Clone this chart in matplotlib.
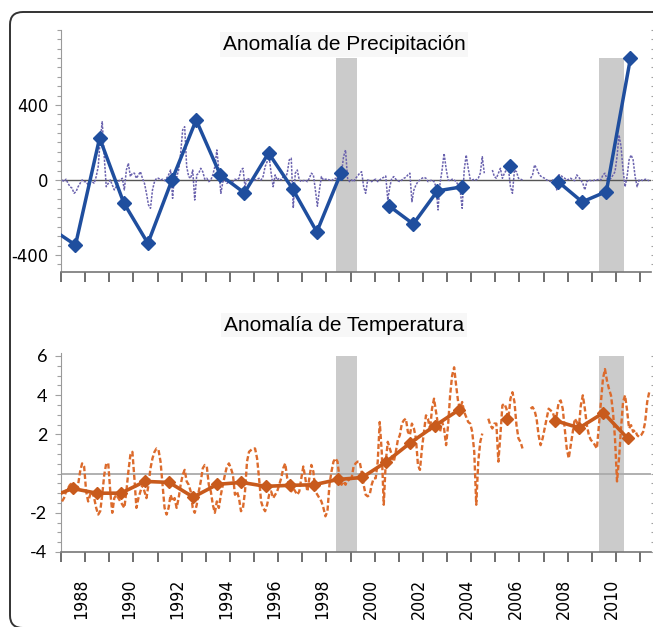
import numpy as np
import matplotlib.pyplot as plt
import matplotlib.transforms as mtransforms
from matplotlib import font_manager
from matplotlib.patches import FancyBboxPatch
from matplotlib.ticker import MultipleLocator, FixedLocator

plt.rcParams['axes.unicode_minus'] = False

nan = np.nan

# ---------------------------------------------------------------
# data
# ---------------------------------------------------------------
years = list(range(1986, 2011))
precip_annual = [-260, -347, 224, -122, -338, 0, 320, 27, -69, 144, -48, -277, 37,
                 nan, -139, -235, -58, -37, nan, 75, nan, -9, -117, -62, 651]
temp_annual = [-1.25, -0.76, -1.0, -1.0, -0.4, -0.45, -1.2, -0.55, -0.45, -0.65, -0.6,
               -0.57, -0.3, -0.2, 0.6, 1.57, 2.43, 3.24, nan, 2.8, nan, 2.7, 2.33, 3.1, 1.8]

# monthly anomalies, one row per year starting 1987 (2011 partial)
month_start = 1987
precip_monthly = [
    [0, -9, 4, -18, -36, -44, -71, -62, -36, -18, 0, -9],          # 1987
    [-9, -27, 0, -9, -18, 18, 71, 213, 311, 124, -36, -18],        # 1988
    [0, -27, -53, -36, -9, 0, 9, -53, 53, 89, 18, 36],             # 1989
    [36, 9, 27, 44, 9, -18, -71, -133, -151, -53, -9, 9],          # 1990
    [9, 0, 4, -4, 9, 27, 53, -98, 44, 14, 53, 142],                # 1991
    [267, 284, 71, 18, 9, 53, -107, 27, 36, 62, 44, 4],            # 1992
    [9, -9, 0, 27, 71, 160, 53, -71, -9, 0, -18, -9],              # 1993
    [-18, -9, 4, 0, 9, 53, 62, -36, 9, 4, -4, 0],                  # 1994
    [0, 4, 9, 0, 18, 71, 98, 124, 36, -36, 27, 0],                 # 1995
    [9, 0, 18, 9, 36, 107, 116, -150, 36, 53, 0, -9],              # 1996
    [-4, 0, -9, 9, 36, 27, -53, -140, -53, 18, 0, 4],              # 1997
    [4, 0, -4, 4, 9, 0, 9, 36, 124, 160, 9, -9],                   # 1998
    [0, -9, 9, 21, 36, 44, -36, -71, 0, -4, -9, 0],                # 1999
    [4, -9, 0, 9, 14, 21, -107, -36, 9, 18, 4, -4],                # 2000
    [-9, 0, 9, 14, 27, 36, -116, -53, -27, -9, 0, 9],              # 2001
    [14, 9, -9, -4, 0, -9, -36, -160, -18, 53, 142, 62],           # 2002
    [0, -4, 4, 0, -9, -27, -53, -151, 53, 133, 62, 4],             # 2003
    [0, 4, 0, 9, 36, 124, 36, nan, nan, nan, 53, 18],              # 2004
    [9, 36, 62, 9, 36, 53, 62, -36, -71, 53, 44, 9],               # 2005
    [4, 0, nan, nan, nan, 9, 27, 80, 62, 36, 21, 14],              # 2006
    [9, 0, -4, -9, 0, -18, -53, 27, 27, 14, 9, 0],                 # 2007
    [4, 9, 0, -4, 27, 14, 0, -18, -53, -9, 0, -4],                 # 2008
    [-4, 0, 0, 4, 0, 27, 36, 4, 0, 9, 27, 44],                     # 2009
    [124, 240, 178, 53, -36, 18, 107, 133, 107, 18, -36, 0],       # 2010
    [0, -4, 4, 0, -4],                                             # 2011
]
temp_monthly = [
    [-1.42, -1.25, -0.91, -0.74, -0.57, -0.49, -0.74, -0.91, -0.57, 0.10, 0.52, 0.36],   # 1987
    [-0.91, -1.42, -1.08, -0.91, -1.25, -1.75, -2.09, -1.92, -1.08, -0.07, 0.52, 0.52],  # 1988
    [-0.91, -2.0, -1.25, -1.08, -1.25, -1.42, -1.59, -1.75, -0.91, 0.10, 0.95, 1.11],    # 1989
    [-0.24, -1.75, -1.25, -0.91, -0.57, -0.91, -1.25, -0.57, 0.27, 0.78, 1.11, 1.28],    # 1990
    [1.20, 0.61, -0.57, -1.75, -2.09, -1.75, -1.08, -1.42, -1.25, -1.75, -1.25, -0.57],  # 1991
    [-0.07, 0.19, -0.40, -0.57, -0.91, -1.75, -2.0, -1.59, -0.91, -0.40, 0.27, 0.44],    # 1992
    [0.36, -0.57, -0.91, -1.59, -2.0, -1.42, -1.75, -1.08, -0.57, -0.07, 0.36, 0.52],    # 1993
    [0.27, -0.07, -1.08, -0.91, -1.25, -1.92, -1.75, -0.91, 0.61, 1.11, 1.20, 1.28],     # 1994
    [1.28, 0.78, -0.24, -1.42, -1.75, -1.92, -1.59, -1.08, -0.91, -1.25, -1.08, -0.91],  # 1995
    [-0.57, -0.24, 0.27, 0.52, -0.24, -0.57, -0.91, -0.74, -0.91, -1.08, -0.91, -0.24],  # 1996
    [0.36, -0.24, -0.91, -0.24, 0.44, 0.10, -0.91, -1.08, -1.25, -1.42, -1.75, -2.18],   # 1997
    [-1.92, -0.57, 0.10, 0.61, 0.78, 0.61, -0.24, -0.57, -0.40, -0.57, -0.24, -0.40],    # 1998
    [-0.24, 0.36, 0.52, 0.61, 0.61, 0.10, -0.57, -1.08, -1.16, -1.08, -0.57, -0.24],     # 1999
    [-0.24, 0.61, 2.63, 1.11, -1.59, 0.61, 1.62, 1.28, 0.95, 0.61, 1.11, 1.71],          # 2000
    [1.96, 2.55, 2.72, 2.80, 2.13, 1.96, 2.55, 2.30, 1.79, 0.44, 0.19, 1.28],            # 2001
    [2.13, 2.97, 2.80, 2.21, 3.31, 3.82, 3.14, 2.47, 2.13, 2.63, 2.30, 1.45],            # 2002
    [2.47, 3.99, 5.00, 5.42, 4.49, 3.65, 3.31, 3.65, 3.14, 2.89, 2.63, 2.55],            # 2003
    [2.13, 1.11, -1.59, 0.61, 1.62, 2.04, nan, nan, 2.80, 2.47, 2.30, 2.55],             # 2004
    [2.55, 0.61, 1.96, 3.48, 3.56, 3.31, 2.80, 3.82, 4.15, 3.65, 2.47, 1.79],            # 2005
    [1.62, 1.28, nan, nan, nan, 3.31, 3.39, 3.22, 2.80, 1.96, 1.45, 1.79],               # 2006
    [2.30, 2.80, 3.31, 3.22, 3.14, 2.80, 2.97, 3.65, 3.73, 3.31, 2.30, 1.28],            # 2007
    [0.78, 1.45, 2.13, 2.80, 2.63, 2.30, 3.48, 3.99, 3.31, 2.47, 1.96, 1.71],            # 2008
    [1.62, 1.45, 1.28, 2.47, 3.65, 4.83, 5.33, 4.74, 4.32, 3.99, 3.14, 1.79],            # 2009
    [-0.40, 0.78, 2.30, 3.65, 3.99, 3.22, 2.30, 2.47, 2.13, 2.21, 1.96, 1.87],           # 2010
    [1.96, 2.13, 2.63, 3.65, 4.15],                                                     # 2011
]

# shaded periods (decimal years)
band_start = [1998.4, 2009.3]
band_end = [1999.25, 2010.35]

PRECIP_OFFSET = 0.6
TEMP_OFFSET = 0.48

BLUE = '#1f4e9e'
BLUE_M = '#6a62ae'
ORANGE = '#c85a1c'
ORANGE_M = '#dc6b2c'
BAND = '#cbcbcb'


def narrow_props(size):
    """condensed regular sans for the tick labels, if one is installed"""
    fonts = font_manager.fontManager.ttflist
    for f in fonts:
        if f.name == 'Liberation Sans Narrow' and f.weight in (400, 'normal', 'regular') \
                and f.style == 'normal':
            return font_manager.FontProperties(fname=f.fname, size=size)
    for f in fonts:
        if f.name == 'DejaVu Sans' and f.stretch == 'condensed' \
                and f.weight in (400, 'normal', 'regular', 'book') and f.style == 'normal':
            return font_manager.FontProperties(fname=f.fname, size=size * 0.82)
    return font_manager.FontProperties(family='Liberation Sans', size=size * 0.8)


def monthly_xy(rows):
    vals = [v for row in rows for v in row]
    x = month_start + (np.arange(len(vals)) + 0.5) / 12.0
    return x, np.array(vals, dtype=float)


def style_axes(ax):
    for side in ('top', 'right'):
        ax.spines[side].set_visible(False)
    ax.spines['left'].set_color('#9a9a9a')
    ax.spines['bottom'].set_color('#777777')
    ax.spines['bottom'].set_linewidth(1.2)
    ax.set_xlim(1987.0, 2011.45)
    ax.xaxis.set_major_locator(MultipleLocator(1))
    ax.tick_params(axis='x', which='major', direction='out', length=7, width=1.2,
                   color='#555555')
    ax.tick_params(axis='y', which='both', left=True, right=True, direction='out',
                   color='#a0a0a0', width=0.8)
    ax.tick_params(axis='y', which='major', length=4)
    ax.tick_params(axis='y', which='minor', length=3)


fig = plt.figure(figsize=(6.53, 6.27), dpi=100)

# rounded frame around the whole figure
frame = FancyBboxPatch((10 / 653, 1 - 628 / 627), 700 / 653, 616 / 627,
                       boxstyle='round,pad=0,rounding_size=0.02',
                       transform=fig.transFigure, facecolor='none',
                       edgecolor='#333333', linewidth=1.4)
fig.patches.append(frame)

ax1 = fig.add_axes([61 / 653, 1 - 272 / 627, 590 / 653, 242 / 627])
ax2 = fig.add_axes([61 / 653, 1 - 552 / 627, 590 / 653, 199 / 627])

# ---- precipitation ----
for b0, b1 in zip(band_start, band_end):
    ax1.fill_between([b0, b1], -491, 650, color=BAND, lw=0, zorder=1)
ax1.axhline(0, color='#555555', lw=1.0, zorder=2)
px, py = monthly_xy(precip_monthly)
ax1.plot(px, py, color=BLUE_M, lw=1.1, ls=(0, (1.5, 0.9)), zorder=3)
ax1.plot(np.array(years) + PRECIP_OFFSET, precip_annual, color=BLUE, lw=2.5,
         marker='D', ms=6.8, markevery=list(range(1, len(years))), zorder=4)
ax1.set_ylim(-491, 800)
ax1.yaxis.set_major_locator(FixedLocator([-400, 0, 400]))
ax1.yaxis.set_minor_locator(MultipleLocator(50))
style_axes(ax1)
ax1.set_xticklabels([])
for lab in ax1.get_yticklabels():
    lab.set_fontproperties(narrow_props(16))
ax1.tick_params(axis='y', pad=5)
ax1.text(0.48, 0.94, 'Anomalía de Precipitación', transform=ax1.transAxes,
         ha='center', va='center', fontsize=15, family='Liberation Sans',
         bbox=dict(facecolor='#f7f7f7', edgecolor='none', pad=2))

# ---- temperature ----
for b0, b1 in zip(band_start, band_end):
    ax2.fill_between([b0, b1], -4, 6, color=BAND, lw=0, zorder=1)
ax2.axhline(0, color='#aaaaaa', lw=1.3, zorder=2)
tx, ty = monthly_xy(temp_monthly)
ax2.plot(tx, ty, color=ORANGE_M, lw=1.7, ls=(0, (2.2, 1.1)), zorder=3)
ax2.plot(np.array(years) + TEMP_OFFSET, temp_annual, color=ORANGE, lw=2.6,
         marker='D', ms=6.2, markevery=list(range(1, len(years))), zorder=4)
ax2.set_ylim(-4, 6.15)
ax2.yaxis.set_major_locator(FixedLocator([-4, -2, 2, 4, 6]))
ax2.yaxis.set_minor_locator(MultipleLocator(0.5))
style_axes(ax2)
ax2.set_xticks(range(1987, 2012), minor=False)
ax2.set_xticklabels([str(y) if y % 2 == 0 else '' for y in range(1987, 2012)],
                    rotation=90)
for lab in ax2.get_xticklabels():
    lab.set_fontproperties(narrow_props(15.5))
ax2.tick_params(axis='x', pad=12)
shift = mtransforms.ScaledTranslation(-4 / 100, 0, fig.dpi_scale_trans)
for lab in ax2.get_xticklabels():
    lab.set_transform(lab.get_transform() + shift)
for lab in ax2.get_yticklabels():
    lab.set_fontfamily(['Lato', 'DejaVu Sans'])
    lab.set_fontsize(13)
ax2.tick_params(axis='y', pad=6)
ax2.text(0.48, 1.14, 'Anomalía de Temperatura', transform=ax2.transAxes,
         ha='center', va='center', fontsize=15, family='Liberation Sans',
         bbox=dict(facecolor='#f7f7f7', edgecolor='none', pad=2))

fig.savefig('out.png', dpi=100)
